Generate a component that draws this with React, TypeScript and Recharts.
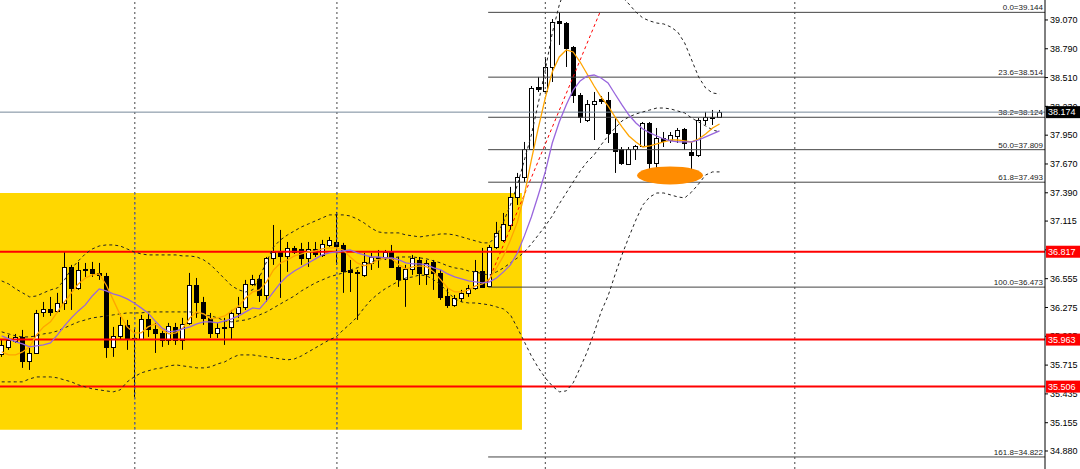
import React from 'react'
import { ComposedChart, Bar, Line, XAxis, YAxis, ReferenceLine, ReferenceArea, ReferenceDot } from 'recharts'

// candle OHLC (index 0 = left-most bar)
const opens = [
  35.824, 35.892, 35.95, 35.989, 35.756, 35.833, 36.232, 36.261, 36.242, 36.319,
  36.669, 36.465, 36.64, 36.65, 36.611, 36.582, 35.892, 35.999, 36.106, 35.979,
  35.97, 36.164, 36.067, 36.028, 35.96, 36.086, 35.96, 36.125, 36.494, 36.329,
  36.174, 36.028, 36.076, 36.086, 36.222, 36.281, 36.504, 36.553, 36.397, 36.757,
  36.815, 36.776, 36.854, 36.844, 36.757, 36.844, 36.786, 36.883, 36.912, 36.883,
  36.64, 36.621, 36.592, 36.708, 36.757, 36.766, 36.815, 36.669, 36.553, 36.65,
  36.737, 36.601, 36.718, 36.611, 36.387, 36.3, 36.368, 36.417, 36.465, 36.63,
  36.48, 36.864, 36.932, 37.077, 37.35, 37.544, 37.816, 38.419, 38.38, 38.613,
  39.06, 39.04, 38.807, 38.341, 38.098, 38.253, 38.302, 38.292, 37.972, 37.816,
  37.67, 37.816, 37.845, 38.069, 37.68, 37.923, 37.903, 37.942, 38.01, 37.787,
  37.758, 38.098, 38.127, 38.127,
]
const highs = [
  35.96, 36.008, 36.018, 36.057, 35.882, 36.251, 36.329, 36.378, 36.417, 36.815,
  36.689, 36.718, 36.708, 36.718, 36.708, 36.611, 36.086, 36.183, 36.154, 36.076,
  36.203, 36.222, 36.125, 36.057, 36.125, 36.125, 36.174, 36.611, 36.562, 36.378,
  36.222, 36.125, 36.174, 36.251, 36.378, 36.543, 36.592, 36.592, 36.766, 37.077,
  37.029, 36.912, 36.873, 36.903, 36.912, 36.912, 36.932, 36.961, 37.204, 36.903,
  36.737, 36.64, 36.805, 36.805, 36.834, 36.834, 36.883, 36.766, 36.689, 36.786,
  36.766, 36.737, 36.737, 36.64, 36.465, 36.397, 36.446, 36.494, 36.737, 36.854,
  36.883, 37.107, 37.194, 37.447, 37.583, 37.884, 38.428, 38.516, 38.71, 39.079,
  39.144, 39.05, 38.817, 38.36, 38.292, 38.37, 38.331, 38.37, 38.117, 37.835,
  37.835, 37.855, 38.078, 38.078, 38.02, 37.981, 37.981, 38.02, 38.02, 37.884,
  38.117, 38.176, 38.195, 38.195,
]
const lows = [
  35.795, 35.863, 35.931, 35.688, 35.668, 35.824, 36.183, 36.193, 36.222, 36.251,
  36.251, 36.446, 36.572, 36.572, 36.543, 35.785, 35.795, 35.96, 35.863, 35.406,
  35.96, 35.989, 35.833, 35.892, 35.911, 35.911, 35.863, 36.106, 36.174, 36.106,
  35.979, 35.979, 35.911, 35.96, 36.174, 36.251, 36.485, 36.329, 36.329, 36.689,
  36.368, 36.621, 36.796, 36.689, 36.669, 36.766, 36.766, 36.864, 36.689, 36.417,
  36.426, 36.154, 36.572, 36.64, 36.66, 36.737, 36.66, 36.475, 36.281, 36.592,
  36.494, 36.494, 36.446, 36.349, 36.271, 36.281, 36.329, 36.378, 36.446, 36.465,
  36.473, 36.844, 36.912, 37.029, 37.272, 37.495, 37.806, 38.37, 38.37, 38.467,
  38.827, 38.613, 38.263, 38.069, 38.078, 37.903, 38.253, 37.874, 37.583, 37.661,
  37.661, 37.709, 37.835, 37.515, 37.495, 37.835, 37.874, 37.874, 37.806, 37.515,
  37.738, 38.049, 38.049, 38.117,
]
const closes = [
  35.911, 35.96, 35.989, 35.756, 35.833, 36.222, 36.261, 36.232, 36.319, 36.669,
  36.465, 36.64, 36.65, 36.611, 36.592, 35.892, 35.999, 36.106, 35.979, 35.97,
  36.164, 36.067, 36.028, 35.96, 36.096, 35.96, 36.115, 36.494, 36.329, 36.174,
  36.028, 36.076, 36.086, 36.222, 36.281, 36.504, 36.553, 36.397, 36.757, 36.815,
  36.776, 36.854, 36.815, 36.757, 36.844, 36.796, 36.893, 36.932, 36.873, 36.63,
  36.621, 36.611, 36.718, 36.766, 36.766, 36.815, 36.669, 36.553, 36.65, 36.757,
  36.611, 36.708, 36.611, 36.378, 36.3, 36.368, 36.417, 36.465, 36.63, 36.475,
  36.864, 37.0, 37.087, 37.35, 37.544, 37.816, 38.409, 38.399, 38.613, 39.05,
  39.04, 38.798, 38.341, 38.127, 38.253, 38.282, 38.282, 37.972, 37.797, 37.68,
  37.816, 37.845, 38.069, 37.68, 37.923, 37.894, 37.952, 38.001, 37.874, 37.758,
  38.098, 38.127, 38.117, 38.174,
]

// moving averages (orange = fast, purple = slow)
const fastMa = [
  35.843, 35.814, 35.814, 35.843, 35.892, 36.008, 36.086, 36.135, 36.232, 36.329,
  36.417, 36.504, 36.562, 36.592, 36.601, 36.494, 36.349, 36.203, 36.086, 36.028,
  36.028, 36.086, 36.115, 36.057, 36.018, 36.028, 36.076, 36.174, 36.232, 36.213,
  36.164, 36.174, 36.193, 36.242, 36.29, 36.368, 36.426, 36.446, 36.524, 36.64,
  36.708, 36.737, 36.776, 36.796, 36.815, 36.825, 36.844, 36.854, 36.854, 36.834,
  36.766, 36.708, 36.679, 36.698, 36.737, 36.757, 36.747, 36.689, 36.65, 36.669,
  36.679, 36.669, 36.621, 36.543, 36.465, 36.426, 36.426, 36.446, 36.485, 36.504,
  36.553, 36.66, 36.776, 36.932, 37.107, 37.369, 37.709, 38.02, 38.312, 38.564,
  38.71, 38.778, 38.759, 38.661, 38.545, 38.428, 38.321, 38.234, 38.127, 38.03,
  37.942, 37.884, 37.835, 37.845, 37.865, 37.884, 37.903, 37.903, 37.894, 37.884,
  37.913, 37.962, 38.02, 38.059,
]
const slowMa = [
  35.999, 35.97, 35.941, 35.921, 35.892, 35.902, 35.911, 35.931, 36.008, 36.096,
  36.174, 36.242, 36.3, 36.387, 36.456, 36.436, 36.407, 36.387, 36.358, 36.319,
  36.271, 36.222, 36.145, 36.076, 36.038, 36.047, 36.067, 36.086, 36.115, 36.135,
  36.135, 36.125, 36.145, 36.164, 36.193, 36.232, 36.271, 36.261, 36.339, 36.426,
  36.514, 36.582, 36.63, 36.669, 36.708, 36.747, 36.786, 36.805, 36.815, 36.825,
  36.834, 36.805, 36.786, 36.766, 36.766, 36.757, 36.757, 36.737, 36.708, 36.698,
  36.698, 36.689, 36.66, 36.64, 36.601, 36.572, 36.553, 36.533, 36.524, 36.514,
  36.524, 36.562, 36.621, 36.689, 36.805, 36.971, 37.155, 37.369, 37.593, 37.874,
  38.078, 38.244, 38.389, 38.477, 38.525, 38.535, 38.506, 38.457, 38.35, 38.244,
  38.146, 38.069, 38.01, 37.972, 37.942, 37.913, 37.894, 37.884, 37.884, 37.884,
  37.903, 37.933, 37.962, 37.991,
]

// bollinger bands (dotted)
const bandUpper = [
  36.533, 36.504, 36.456, 36.417, 36.378, 36.387, 36.417, 36.446, 36.465, 36.543,
  36.65, 36.728, 36.796, 36.844, 36.873, 36.883, 36.883, 36.873, 36.844, 36.815,
  36.796, 36.786, 36.786, 36.786, 36.786, 36.786, 36.776, 36.776, 36.766, 36.737,
  36.689, 36.621, 36.553, 36.485, 36.446, 36.426, 36.446, 36.572, 36.718, 36.864,
  36.932, 36.98, 37.019, 37.058, 37.087, 37.116, 37.146, 37.175, 37.175, 37.175,
  37.165, 37.136, 37.097, 37.048, 37.01, 37.0, 37.0, 37.0, 36.98, 36.971,
  36.961, 36.971, 36.98, 36.99, 36.99, 36.98, 36.961, 36.941, 36.922, 36.903,
  36.903, 36.971, 37.107, 37.272, 37.466, 37.709, 37.952, 38.263, 38.584, 38.943,
  39.215, 39.41, 39.536, 39.604, 39.624, 39.604, 39.556, 39.478, 39.381, 39.293,
  39.225, 39.147, 39.089, 39.06, 39.04, 39.031, 39.002, 38.953, 38.846, 38.681,
  38.516, 38.409, 38.36, 38.35,
]
const bandMiddle = [
  36.038, 36.018, 35.999, 35.989, 35.989, 35.999, 36.018, 36.028, 36.047, 36.076,
  36.106, 36.135, 36.154, 36.174, 36.183, 36.193, 36.203, 36.213, 36.222, 36.222,
  36.222, 36.232, 36.232, 36.232, 36.232, 36.232, 36.232, 36.232, 36.222, 36.203,
  36.193, 36.174, 36.145, 36.135, 36.145, 36.154, 36.174, 36.203, 36.232, 36.271,
  36.31, 36.349, 36.387, 36.436, 36.475, 36.514, 36.543, 36.572, 36.592, 36.611,
  36.64, 36.66, 36.689, 36.718, 36.737, 36.747, 36.757, 36.766, 36.766, 36.766,
  36.757, 36.747, 36.728, 36.708, 36.679, 36.66, 36.65, 36.63, 36.621, 36.601,
  36.592, 36.621, 36.66, 36.708, 36.757, 36.815, 36.893, 36.98, 37.068, 37.165,
  37.282, 37.388, 37.495, 37.602, 37.69, 37.758, 37.855, 37.942, 38.02, 38.088,
  38.127, 38.156, 38.176, 38.195, 38.214, 38.214, 38.205, 38.185, 38.166, 38.117,
  38.078, 38.04, 38.001, 37.981,
]
const bandLower = [
  35.552, 35.552, 35.552, 35.552, 35.581, 35.6, 35.6, 35.6, 35.591, 35.571,
  35.552, 35.523, 35.503, 35.484, 35.474, 35.464, 35.455, 35.474, 35.552, 35.6,
  35.639, 35.659, 35.678, 35.688, 35.707, 35.717, 35.707, 35.698, 35.688, 35.688,
  35.698, 35.727, 35.746, 35.785, 35.814, 35.814, 35.814, 35.804, 35.795, 35.785,
  35.775, 35.766, 35.775, 35.804, 35.843, 35.882, 35.921, 35.96, 35.989, 36.057,
  36.115, 36.183, 36.271, 36.349, 36.407, 36.456, 36.494, 36.533, 36.562, 36.572,
  36.592, 36.582, 36.543, 36.494, 36.426, 36.358, 36.329, 36.319, 36.319, 36.31,
  36.3, 36.281, 36.261, 36.203, 36.076, 35.941, 35.804, 35.688, 35.591, 35.513,
  35.455, 35.464, 35.542, 35.688, 35.843, 36.028, 36.232, 36.387, 36.592, 36.786,
  36.961, 37.126, 37.272, 37.35, 37.388, 37.388, 37.369, 37.35, 37.34, 37.398,
  37.476, 37.563, 37.593, 37.593,
]

// price axis
const priceTicks = [
  39.07, 38.79, 38.51, 38.23, 37.95, 37.67, 37.39, 37.115,
  36.835, 36.555, 36.275, 35.995, 35.715, 35.435, 35.155, 34.88,
]
const xDomain = [-0.244, 149.7]
const yDomain = [34.705, 39.264]

// fibonacci retracement drawn from the swing low bar
const fibRatios = ['0.0', '23.6', '38.2', '50.0', '61.8', '100.0', '161.8']
const fibValues = [39.144, 38.514, 38.124, 37.809, 37.493, 36.473, 34.822]
const fibStart = 69.8

const redLevels = [36.817, 35.963, 35.506]
const lastPrice = 38.174
const daySeparators = [19.1, 48.1, 78, 113.8]

// yellow box and orange marker
const boxX = [-0.244, 74.65]
const boxY = [35.086, 37.388]
const marker = { i: 95.9, price: 37.559 }
const trendFrom = { i: 69.8, price: 36.524 }
const trendTo = { i: 85.8, price: 39.138 }

const FONT = '"Liberation Sans", Arial, sans-serif'

const candles = opens.map((open, i) => ({
  i,
  range: [lows[i], highs[i]],
  open,
  high: highs[i],
  low: lows[i],
  close: closes[i],
  fast: fastMa[i],
  slow: slowMa[i],
  upper: bandUpper[i],
  middle: bandMiddle[i],
  lower: bandLower[i],
}))

function Candle(props: any) {
  const { x, y, width, height, index } = props
  const c = candles[index] ?? props.payload
  if (c == null || x == null || y == null) return null
  const top = Math.min(y, y + height)
  const span = Math.abs(height)
  const perUnit = span / (c.high - c.low || 1)
  const toY = (v: number) => top + (c.high - v) * perUnit
  const cx = Math.floor(x + width / 2) + 0.5
  const bTop = Math.round(toY(Math.max(c.open, c.close)))
  const bBot = Math.round(toY(Math.min(c.open, c.close)))
  const rising = c.close >= c.open
  return (
    <g>
      <line x1={cx} x2={cx} y1={top} y2={top + span} stroke="#000" strokeWidth={1} />
      <rect
        x={cx - 2}
        y={bTop + 0.5}
        width={4}
        height={Math.max(bBot - bTop, 1)}
        fill={rising ? '#fff' : '#000'}
        stroke="#000"
        strokeWidth={1}
      />
    </g>
  )
}

// price tags on the axis (drawn by a second, thin axis so they sit above the tick labels)
const tagValues = [lastPrice, ...redLevels]

function PriceTag(props: any) {
  const { x, y, payload } = props
  const v = payload?.value
  const fill = v === lastPrice ? '#000' : '#FF0000'
  const left = x > 1060 ? x - 33 : x + 1
  return (
    <g>
      <rect x={left} y={y - 6} width={34} height={12} fill={fill} />
      <text x={left + 2} y={y} dy="0.35em" fontSize={9} fontFamily={FONT} fill="#fff">
        {Number(v).toFixed(3)}
      </text>
    </g>
  )
}

function FibTag(props: any) {
  const vb = props.viewBox ?? {}
  const right = vb.x + vb.width
  return (
    <text x={right - 2} y={vb.y - 2} textAnchor="end" fontSize={8} fontFamily={FONT} fill="#222">
      {props.text}
    </text>
  )
}

export default function App() {
  return (
    <div style={{ position: 'absolute', left: 0, top: 0, width: 1080, height: 469, background: '#fff' }}>
      <ComposedChart width={1080} height={469} data={candles} margin={{ top: 0, right: 0, bottom: 0, left: 0 }}>
        <XAxis dataKey="i" type="number" domain={xDomain} hide allowDataOverflow />
        <YAxis
          orientation="right"
          width={34}
          domain={yDomain}
          ticks={priceTicks}
          interval={0}
          allowDataOverflow
          tickSize={3}
          tickMargin={2}
          axisLine={{ stroke: '#000' }}
          tickLine={{ stroke: '#000' }}
          tick={{ fontSize: 9, fill: '#000', fontFamily: FONT }}
          tickFormatter={(v: number) => v.toFixed(3)}
        />
        <YAxis
          yAxisId="tags"
          orientation="right"
          width={1}
          domain={yDomain}
          ticks={tagValues}
          interval={0}
          allowDataOverflow
          tickSize={0}
          tickMargin={0}
          axisLine={false}
          tickLine={false}
          tick={<PriceTag />}
        />
        <ReferenceArea x1={boxX[0]} x2={boxX[1]} y1={boxY[0]} y2={boxY[1]} fill="#FFD700" fillOpacity={1} stroke="none" />
        {daySeparators.map((s) => (
          <ReferenceLine key={s} x={s} stroke="#444" strokeDasharray="2 3" />
        ))}
        {daySeparators
          .filter((s) => s < boxX[1])
          .map((s) => (
            <ReferenceLine
              key={'in' + s}
              segment={[{ x: s, y: boxY[0] }, { x: s, y: boxY[1] }]}
              stroke="#4F68D8"
              strokeDasharray="2 3"
            />
          ))}
        <ReferenceDot
          x={marker.i}
          y={marker.price}
          shape={(p: any) => <ellipse cx={p.cx} cy={p.cy} rx={33} ry={9} fill="#FF8C00" />}
        />
        {fibValues.map((v, k) => (
          <ReferenceLine
            key={'fib' + k}
            segment={[{ x: fibStart, y: v }, { x: xDomain[1], y: v }]}
            stroke="#444"
            label={(p: any) => <FibTag viewBox={p.viewBox} text={`${fibRatios[k]}=${v.toFixed(3)}`} />}
          />
        ))}
        <ReferenceLine y={lastPrice} stroke="#778899" />
        {redLevels.map((v) => (
          <ReferenceLine key={'red' + v} y={v} stroke="#FF0000" strokeWidth={2} />
        ))}
        <ReferenceLine
          segment={[{ x: trendFrom.i, y: trendFrom.price }, { x: trendTo.i, y: trendTo.price }]}
          stroke="#FF0000"
          strokeDasharray="3 3"
        />
        <Line dataKey="upper" stroke="#222" strokeDasharray="3 3" dot={false} activeDot={false} isAnimationActive={false} />
        <Line dataKey="middle" stroke="#222" strokeDasharray="3 3" dot={false} activeDot={false} isAnimationActive={false} />
        <Line dataKey="lower" stroke="#222" strokeDasharray="3 3" dot={false} activeDot={false} isAnimationActive={false} />
        <Bar dataKey="range" barSize={5} shape={<Candle />} activeBar={false} isAnimationActive={false} />
        <Line dataKey="fast" stroke="#FFA500" strokeWidth={1.3} dot={false} activeDot={false} isAnimationActive={false} />
        <Line dataKey="slow" stroke="#9966DD" strokeWidth={1.3} dot={false} activeDot={false} isAnimationActive={false} />
      </ComposedChart>
    </div>
  )
}
